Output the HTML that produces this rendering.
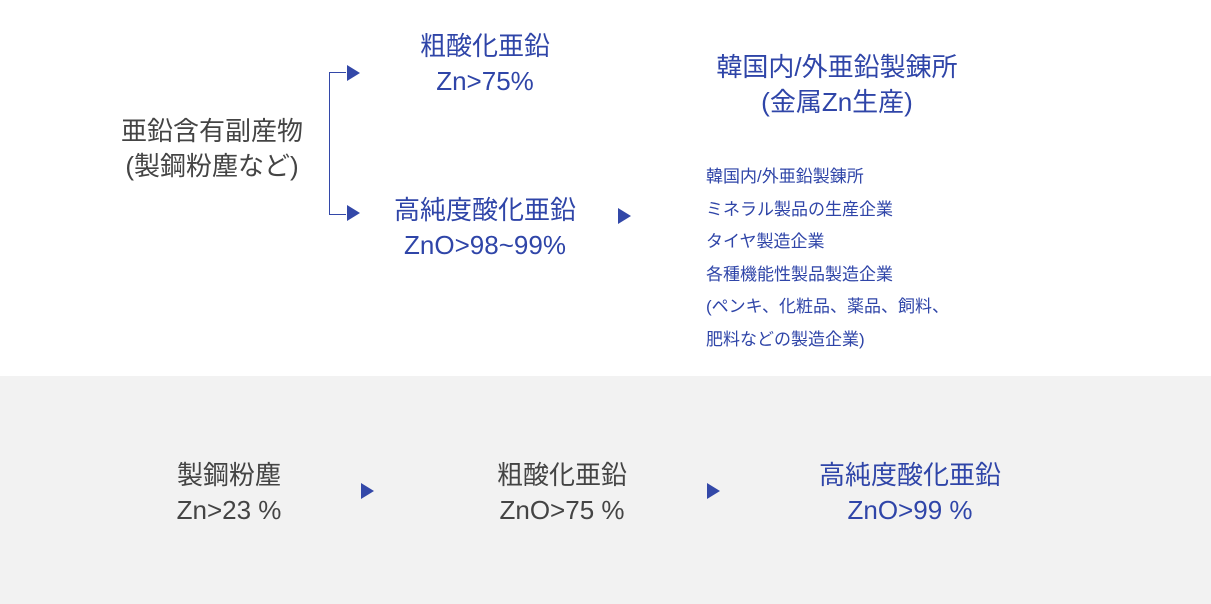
<!DOCTYPE html>
<html><head><meta charset="utf-8"><style>
body{margin:0;width:1211px;height:604px;position:relative;background:#fff;font-family:"Liberation Sans","Noto Sans CJK JP",sans-serif;overflow:hidden}
.t{position:absolute;text-align:center;font-size:26px;line-height:35px;white-space:nowrap;transform:translateX(-50%)}
.g{color:#444}.b{color:#2f45a8}
.list{position:absolute;left:706px;top:161px;font-size:17px;line-height:32.6px;color:#2f45a8;white-space:nowrap}
.bot{position:absolute;left:0;top:376px;width:1211px;height:228px;background:#f2f2f2}
.tri{position:absolute;width:0;height:0;border-top:8px solid transparent;border-bottom:8px solid transparent;border-left:13px solid #3348a8}
</style></head><body>
<div class="t g" style="left:212px;top:114px">亜鉛含有副産物<br>(製鋼粉塵など)</div>
<div style="position:absolute;left:329px;top:72px;width:16px;height:141px;border:1.5px solid #3348a8;border-right:none"></div>
<div class="tri" style="left:347px;top:65px"></div>
<div class="tri" style="left:347px;top:205px"></div>
<div class="t b" style="left:485px;top:29px">粗酸化亜鉛<br>Zn&gt;75%</div>
<div class="t b" style="left:485px;top:193px">高純度酸化亜鉛<br>ZnO&gt;98~99%</div>
<div class="tri" style="left:618px;top:208px"></div>
<div class="t b" style="left:837px;top:50px">韓国内/外亜鉛製錬所<br>(金属Zn生産)</div>
<div class="list">韓国内/外亜鉛製錬所<br>ミネラル製品の生産企業<br>タイヤ製造企業<br>各種機能性製品製造企業<br>(ペンキ、化粧品、薬品、飼料、<br>肥料などの製造企業)</div>
<div class="bot"></div>
<div class="t g" style="left:229px;top:458px">製鋼粉塵<br>Zn&gt;23 %</div>
<div class="tri" style="left:361px;top:483px"></div>
<div class="t g" style="left:562px;top:458px">粗酸化亜鉛<br>ZnO&gt;75 %</div>
<div class="tri" style="left:707px;top:483px"></div>
<div class="t b" style="left:910px;top:458px">高純度酸化亜鉛<br>ZnO&gt;99 %</div>
</body></html>
